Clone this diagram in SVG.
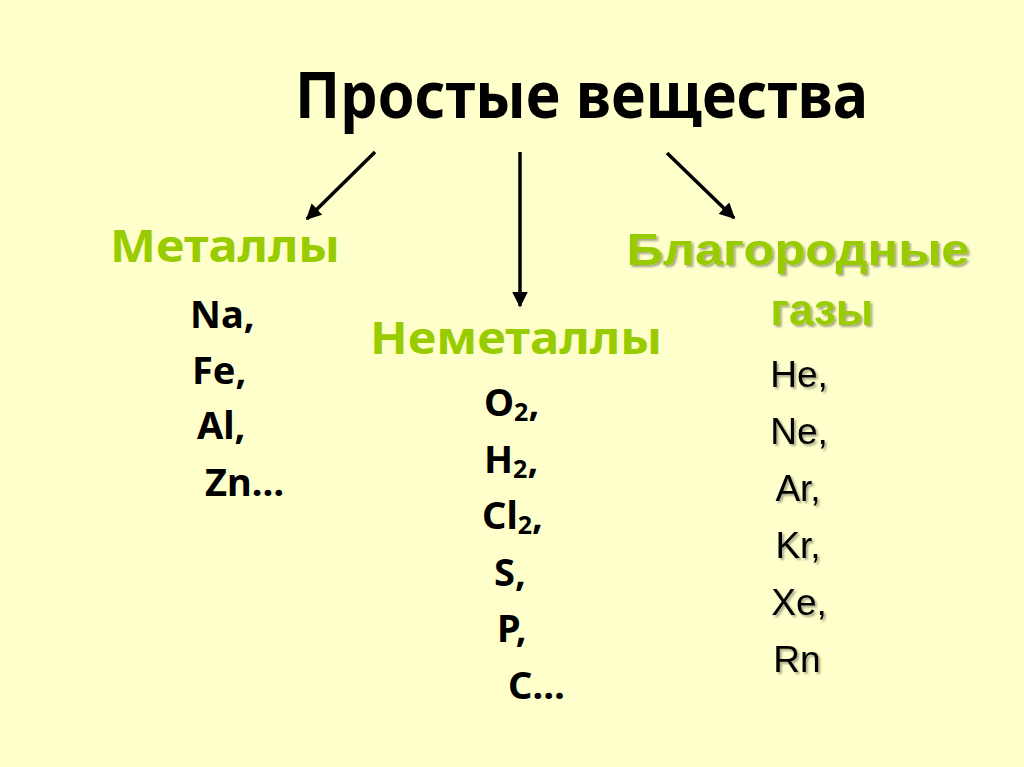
<svg xmlns="http://www.w3.org/2000/svg" width="1024" height="767" viewBox="0 0 1024 767">
<defs>
<style>
.comic{font-family:"Noto Sans","DejaVu Sans",sans-serif;font-weight:bold;fill:#000}
.green{font-family:"Noto Sans","DejaVu Sans",sans-serif;font-weight:bold;fill:#99CC00;font-size:44px}
.arial{font-family:"Liberation Sans",Arial,sans-serif;font-weight:bold}
.sym{font-size:38px}
.gas{font-family:"Liberation Sans",Arial,sans-serif;font-size:37px;fill:#000;text-anchor:middle}
.conn{stroke:#000;stroke-width:3.5;fill:none}
</style>
<marker id="ah" viewBox="0 0 10 10" refX="9" refY="5" markerWidth="4.5" markerHeight="4.5" orient="auto" markerUnits="strokeWidth">
<path d="M0,0 L10,5 L0,10 z" fill="#000"/>
</marker>
<filter id="sh" x="-10%" y="-10%" width="120%" height="130%">
<feDropShadow dx="2" dy="2" stdDeviation="1" flood-color="#000" flood-opacity="0.35"/>
</filter>
</defs>
<rect width="1024" height="767" fill="#FFFFCC"/>
<g id="title">
<text class="comic" x="295" y="118" font-size="64" textLength="573" lengthAdjust="spacingAndGlyphs">Простые вещества</text>
</g>
<g id="connectors">
<line class="conn" x1="375" y1="152" x2="307" y2="219" marker-end="url(#ah)"/>
<line class="conn" x1="520" y1="152" x2="520" y2="306" marker-end="url(#ah)"/>
<line class="conn" x1="667" y1="153" x2="734" y2="218" marker-end="url(#ah)"/>
</g>
<g id="metals">
<text class="green" x="110" y="262" textLength="230" lengthAdjust="spacingAndGlyphs">Металлы</text>
<text class="comic sym" x="190" y="328">Na,</text>
<text class="comic sym" x="192" y="384">Fe,</text>
<text class="comic sym" x="197" y="439">Al,</text>
<text class="comic sym" x="205" y="496">Zn…</text>
</g>
<g id="nonmetals">
<text class="green" x="370" y="354" textLength="292" lengthAdjust="spacingAndGlyphs">Неметаллы</text>
<text class="comic sym" x="484" y="416">O<tspan font-size="25" dy="5">2</tspan><tspan dy="-5">,</tspan></text>
<text class="comic sym" x="484" y="473">H<tspan font-size="25" dy="5">2</tspan><tspan dy="-5">,</tspan></text>
<text class="comic sym" x="482" y="529">Cl<tspan font-size="25" dy="5">2</tspan><tspan dy="-5">,</tspan></text>
<text class="comic sym" x="494" y="586">S,</text>
<text class="comic sym" x="497" y="642">P,</text>
<text class="comic sym" x="508" y="699">C…</text>
</g>
<g id="noble" filter="url(#sh)">
<text class="arial" x="798" y="265" font-size="44" fill="#99CC00" text-anchor="middle" textLength="343" lengthAdjust="spacingAndGlyphs">Благородные</text>
<text class="arial" x="822" y="325" font-size="44" fill="#99CC00" text-anchor="middle">газы</text>
<text class="gas" x="799" y="387">He,</text>
<text class="gas" x="799" y="444">Ne,</text>
<text class="gas" x="798" y="501">Ar,</text>
<text class="gas" x="798" y="558">Kr,</text>
<text class="gas" x="799" y="615">Xe,</text>
<text class="gas" x="797" y="672">Rn</text>
</g>
</svg>
